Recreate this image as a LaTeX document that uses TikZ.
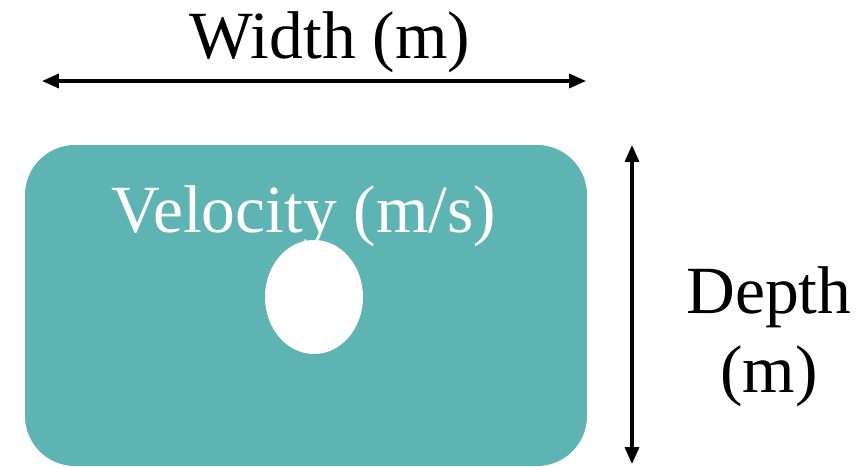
\documentclass[tikz,border=0pt]{standalone}
\usepackage{fontspec}
\setmainfont{Liberation Serif}
\usepackage{xcolor}
\usetikzlibrary{arrows.meta, shapes.geometric, positioning}
\definecolor{tealfill}{HTML}{5EB3B3}

\begin{document}
\begin{tikzpicture}[x=0.025cm, y=-0.025cm, >={Triangle[length=12pt, width=10pt]}]
    \useasboundingbox (0,0) rectangle (859,466);
    % 1. Mat cat kenh (hinh chu nhat bo goc)
    \fill[tealfill, rounded corners=1.25cm] (25,145) rectangle (587,466);
    \node[white, font=\fontsize{48}{54}\selectfont] (vel) at (304,216) {Velocity (m/s)};
    \node[ellipse, fill=white, minimum width=98*0.025cm, minimum height=114*0.025cm, inner sep=0pt] (probe) at (314,297) {};

    % 2. Chieu rong
    \coordinate (wl) at (42,81);
    \coordinate (wr) at (586,81);
    \draw[<->, line width=2.2pt] (wl) -- (wr);
    \node[font=\fontsize{48}{54}\selectfont] (width) at (330,42) {Width (m)};

    % 3. Chieu sau
    \coordinate (dt) at (632,145);
    \coordinate (db) at (632,464);
    \draw[<->, line width=2.2pt] (dt) -- (db);
    \node[font=\fontsize{48}{56}\selectfont, align=center] (depth) at (769,337) {Depth\\(m)};
\end{tikzpicture}
\end{document}
